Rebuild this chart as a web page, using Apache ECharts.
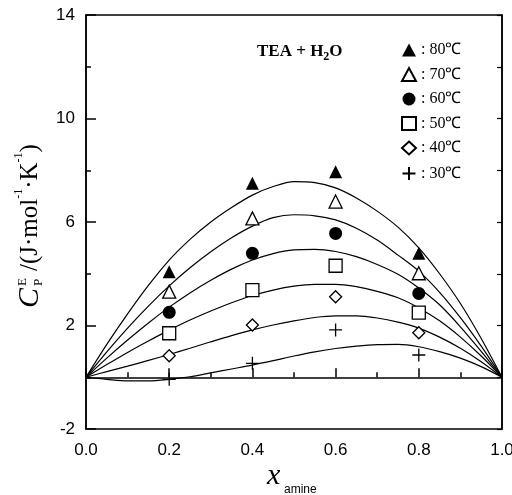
<!DOCTYPE html>
<html lang="en">
  <head>
    <meta charset="utf-8" />
    <title>TEA + H2O excess heat capacity</title>
    <script src="https://cdn.jsdelivr.net/npm/echarts@6/dist/echarts.min.js"></script>
    <style>
      * { margin: 0; padding: 0; }
      html, body, #chart { width: 100%; height: 100%; overflow: hidden; background: #fff; }
    </style>
  </head>
  <body>
    <div id="chart"></div>
    <script>
      // measured points
      var xPts = [0.2, 0.4, 0.6, 0.8];
      var p80 = [4.08, 7.5, 7.94, 4.79];
      var p70 = [3.31, 6.14, 6.79, 4.02];
      var p60 = [2.51, 4.79, 5.56, 3.24];
      var p50 = [1.7, 3.37, 4.31, 2.5];
      var p40 = [0.83, 2.02, 3.11, 1.72];
      var p30 = [-0.08, 0.54, 1.83, 0.86];

      // fitted curves, every 0.05
      var xCurve = [0, 0.05, 0.1, 0.15, 0.2, 0.25, 0.3, 0.35, 0.4, 0.45, 0.5,
                    0.55, 0.6, 0.65, 0.7, 0.75, 0.8, 0.85, 0.9, 0.95, 1];
      var c80 = [0, 1.27, 2.45, 3.55, 4.53, 5.33, 6.0, 6.56, 7.04, 7.37, 7.56,
                 7.52, 7.32, 6.93, 6.42, 5.8, 5.0, 4.0, 2.85, 1.5, 0];
      var c70 = [0, 0.98, 1.9, 2.75, 3.53, 4.23, 4.85, 5.39, 5.84, 6.17, 6.28,
                 6.24, 6.08, 5.76, 5.3, 4.72, 4.1, 3.28, 2.3, 1.2, 0];
      var c60 = [0, 0.74, 1.44, 2.1, 2.71, 3.26, 3.75, 4.18, 4.53, 4.78, 4.92,
                 4.94, 4.86, 4.66, 4.36, 3.98, 3.45, 2.8, 1.95, 1.0, 0];
      var c50 = [0, 0.49, 0.96, 1.4, 1.82, 2.21, 2.56, 2.88, 3.16, 3.37, 3.52,
                 3.59, 3.59, 3.5, 3.32, 3.07, 2.68, 2.18, 1.55, 0.82, 0];
      var c40 = [0, 0.22, 0.43, 0.65, 0.88, 1.12, 1.37, 1.61, 1.83, 2.02, 2.18,
                 2.31, 2.37, 2.37, 2.29, 2.13, 1.9, 1.55, 1.12, 0.6, 0];
      var c30 = [0, -0.08, -0.14, -0.14, -0.08, 0.02, 0.17, 0.32, 0.47, 0.64, 0.82,
                 0.98, 1.11, 1.2, 1.26, 1.27, 1.18, 0.99, 0.74, 0.41, 0];

      var names = [": 80\u2103", ": 70\u2103", ": 60\u2103", ": 50\u2103", ": 40\u2103", ": 30\u2103"];
      var xMajor = [0, 0.2, 0.4, 0.6, 0.8, 1.0];
      var xMinor = [0.1, 0.3, 0.5, 0.7, 0.9];
      var yMajor = [-2, 2, 6, 10, 14];
      var yMinor = [0, 4, 8, 12];

      function pairs(xs, ys) {
        return xs.map(function (x, i) { return [x, ys[i]]; });
      }

      var serif = "Liberation Serif, Times New Roman, serif";
      var sans = "Liberation Sans, Arial, sans-serif";
      var plus = "path://M5,0 L5,10 M0,5 L10,5";

      var pointStyles = [
        { symbol: "triangle", size: 13, fill: "#000" },
        { symbol: "triangle", size: 13, fill: "#fff" },
        { symbol: "circle", size: 13, fill: "#000" },
        { symbol: "rect", size: 13, fill: "#fff" },
        { symbol: "diamond", size: 12, fill: "#fff" },
        { symbol: plus, size: 13, fill: "none" }
      ];
      var pointData = [p80, p70, p60, p50, p40, p30];
      var curveData = [c80, c70, c60, c50, c40, c30];

      var series = [];
      curveData.forEach(function (c) {
        series.push({
          type: "line",
          data: pairs(xCurve, c),
          smooth: 0.3,
          symbol: "none",
          silent: true,
          lineStyle: { color: "#000", width: 1.2 },
          z: 2
        });
      });
      pointData.forEach(function (p, i) {
        var st = pointStyles[i];
        series.push({
          type: "scatter",
          name: names[i],
          data: pairs(xPts, p),
          symbol: st.symbol,
          symbolSize: st.size,
          itemStyle: {
            color: st.fill,
            borderColor: "#000",
            borderWidth: st.fill === "#000" ? 0 : 1.3,
            opacity: 1
          },
          z: 3
        });
      });

      var axisLine = { show: true, lineStyle: { color: "#000", width: 1.5 } };

      var chart = echarts.init(document.getElementById("chart"));
      chart.setOption({
        animation: false,
        backgroundColor: "#fff",
        grid: {
          left: 86, right: 10, top: 15, bottom: 66,
          outerBoundsMode: "none",
          show: true, borderColor: "#000", borderWidth: 1.5
        },
        legend: {
          data: names,
          orient: "vertical",
          left: 395,
          top: 37,
          itemWidth: 14,
          itemHeight: 13,
          itemGap: 8.5,
          textStyle: { fontFamily: serif, fontSize: 16, color: "#000" }
        },
        xAxis: [
          {
            type: "value", min: 0, max: 1,
            axisLine: axisLine,
            splitLine: { show: false },
            axisTick: { inside: true, length: 9, customValues: xMajor, lineStyle: { color: "#000", width: 1.5 } },
            axisLabel: {
              customValues: xMajor, margin: 13,
              formatter: function (v) { return v.toFixed(1); },
              fontFamily: sans, fontSize: 17, color: "#000"
            }
          },
          {
            type: "value", min: 0, max: 1, position: "bottom",
            axisLine: { show: false },
            splitLine: { show: false },
            axisTick: { inside: true, length: 5, customValues: xMinor, lineStyle: { color: "#000", width: 1.5 } },
            axisLabel: { show: false }
          }
        ],
        yAxis: [
          {
            type: "value", min: -2, max: 14,
            axisLine: axisLine,
            splitLine: { show: false },
            axisTick: { inside: true, length: 10, customValues: yMajor, lineStyle: { color: "#000", width: 1.5 } },
            axisLabel: {
              customValues: yMajor, margin: 11,
              fontFamily: sans, fontSize: 17, color: "#000"
            }
          },
          {
            type: "value", min: -2, max: 14, position: "left",
            axisLine: { show: false },
            splitLine: { show: false },
            axisTick: { inside: true, length: 5, customValues: yMinor, lineStyle: { color: "#000", width: 1.5 } },
            axisLabel: { show: false }
          },
          {
            type: "value", min: -2, max: 14, position: "right",
            axisLine: axisLine,
            splitLine: { show: false },
            axisTick: { inside: true, length: 5, customValues: yMajor.concat(yMinor), lineStyle: { color: "#000", width: 1.2 } },
            axisLabel: { show: false }
          }
        ],
        graphic: [
          {
            type: "text", left: 257, top: 43,
            style: {
              text: "{b|TEA + H}{s|2}{b|O}",
              rich: {
                b: { fontFamily: serif, fontWeight: "bold", fontSize: 17, fill: "#000", verticalAlign: "top", lineHeight: 20 },
                s: { fontFamily: serif, fontWeight: "bold", fontSize: 12, fill: "#000", verticalAlign: "bottom", lineHeight: 20 }
              }
            }
          },
          {
            type: "group",
            x: 30, y: 308,
            rotation: Math.PI / 2,
            children: [
              { type: "text", x: 0, y: 0, style: { text: "C", fontFamily: serif, fontStyle: "italic", fontSize: 30, fill: "#000", verticalAlign: "middle" } },
              { type: "text", x: 22, y: -7, style: { text: "E", fontFamily: serif, fontSize: 13, fill: "#000", verticalAlign: "middle" } },
              { type: "text", x: 22, y: 9, style: { text: "P", fontFamily: serif, fontSize: 13, fill: "#000", verticalAlign: "middle" } },
              {
                type: "text", x: 37, y: -2,
                style: {
                  text: "{t|/(J\u00b7mol}{s|-1}{t|\u00b7K}{s|-1}{t|)}",
                  verticalAlign: "middle",
                  rich: {
                    t: { fontFamily: serif, fontSize: 25, fill: "#000", verticalAlign: "bottom", lineHeight: 30 },
                    s: { fontFamily: serif, fontSize: 12, fill: "#000", verticalAlign: "top", lineHeight: 30 }
                  }
                }
              }
            ]
          },
          {
            type: "text", x: 267, y: 476,
            style: { text: "x", fontFamily: serif, fontStyle: "italic", fontSize: 30, fill: "#000", verticalAlign: "middle" }
          },
          {
            type: "text", x: 284, y: 490,
            style: { text: "amine", fontFamily: sans, fontSize: 12, fill: "#000", verticalAlign: "middle" }
          }
        ],
        series: series
      });
    </script>
  </body>
</html>
